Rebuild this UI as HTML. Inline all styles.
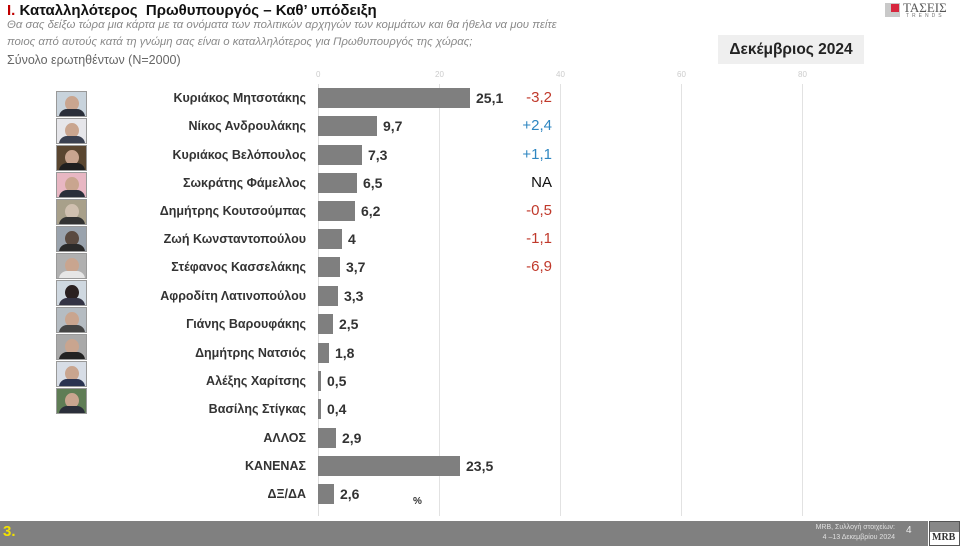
<!DOCTYPE html>
<html><head><meta charset="utf-8"><style>
*{margin:0;padding:0;box-sizing:border-box}
body{width:960px;height:546px;background:#fff;position:relative;overflow:hidden;font-family:"Liberation Sans","DejaVu Sans",sans-serif}
.a{position:absolute;white-space:nowrap}
.name{position:absolute;right:654px;font-size:12.5px;font-weight:bold;color:#333;text-align:right;line-height:20px}
.bar{position:absolute;left:318px;height:20px;background:#7f7f7f}
.val{position:absolute;font-size:14px;font-weight:bold;color:#333;line-height:20px}
.ch{position:absolute;width:60px;left:492px;text-align:right;font-size:15px;line-height:20px}
.grid{position:absolute;top:84px;width:1px;height:432px;background:#e2e2e2}
.tick{position:absolute;top:70px;font-size:8px;color:#ccc}
.ph{position:absolute;left:56px;width:31px;height:26px;border:1px solid #999;overflow:hidden}
.ph i{position:absolute;left:8px;top:4px;width:14px;height:15px;border-radius:50%;background:#c9a58f}
.ph b{position:absolute;left:2px;top:17px;width:26px;height:12px;border-radius:8px 8px 0 0;background:#2b2f3a}
</style></head><body>
<div class="a" style="left:7px;top:2px;font-size:15px;font-weight:bold;color:#111"><span style="color:#c00000">I.</span> Καταλληλότερος&nbsp; Πρωθυπουργός – Καθ’ υπόδειξη</div>
<div class="a" style="left:7px;top:17px;font-size:11.4px;font-style:italic;color:#8a8a8a;line-height:17px">Θα σας δείξω τώρα μια κάρτα με τα ονόματα των πολιτικών αρχηγών των κομμάτων και θα ήθελα να μου πείτε<br>ποιος από αυτούς κατά τη γνώμη σας είναι ο καταλληλότερος για Πρωθυπουργός της χώρας;</div>
<div class="a" style="left:7px;top:53px;font-size:12.5px;color:#666">Σύνολο ερωτηθέντων (N=2000)</div>
<div class="a" style="left:885px;top:3px;width:15px;height:14px;background:#c9c9c9"><div style="position:absolute;left:6px;top:1px;width:8px;height:8px;background:#d7263d"></div></div>
<div class="a" style="left:903px;top:0px;font-size:13px;font-family:'Liberation Serif',serif;color:#555">ΤΑΣΕΙΣ</div>
<div class="a" style="left:906px;top:13px;font-size:5px;letter-spacing:3px;color:#777">TRENDS</div>
<div class="a" style="left:718px;top:35px;width:146px;height:29px;background:#efefef;font-size:15.5px;font-weight:bold;color:#222;text-align:center;line-height:29px">Δεκέμβριος 2024</div>
<div class="grid" style="left:318px;background:#ddd"></div>
<div class="grid" style="left:439px"></div><div class="grid" style="left:560px"></div><div class="grid" style="left:681px"></div><div class="grid" style="left:802px"></div>
<div class="tick" style="left:316px">0</div><div class="tick" style="left:435px">20</div><div class="tick" style="left:556px">40</div><div class="tick" style="left:677px">60</div><div class="tick" style="left:798px">80</div>

<div class="name" style="top:88px">Κυριάκος Μητσοτάκης</div><div class="bar" style="top:88px;width:152px"></div><div class="val" style="top:88px;left:476px">25,1</div><div class="ch" style="top:88px;color:#c0392b">-3,2</div>
<div class="name" style="top:116px">Νίκος Ανδρουλάκης</div><div class="bar" style="top:116px;width:59px"></div><div class="val" style="top:116px;left:383px">9,7</div><div class="ch" style="top:116px;color:#2e86c1">+2,4</div>
<div class="name" style="top:145px">Κυριάκος Βελόπουλος</div><div class="bar" style="top:145px;width:44px"></div><div class="val" style="top:145px;left:368px">7,3</div><div class="ch" style="top:145px;color:#2e86c1">+1,1</div>
<div class="name" style="top:173px">Σωκράτης Φάμελλος</div><div class="bar" style="top:173px;width:39px"></div><div class="val" style="top:173px;left:363px">6,5</div><div class="ch" style="top:173px;color:#111">NA</div>
<div class="name" style="top:201px">Δημήτρης Κουτσούμπας</div><div class="bar" style="top:201px;width:37px"></div><div class="val" style="top:201px;left:361px">6,2</div><div class="ch" style="top:201px;color:#c0392b">-0,5</div>
<div class="name" style="top:229px">Ζωή Κωνσταντοπούλου</div><div class="bar" style="top:229px;width:24px"></div><div class="val" style="top:229px;left:348px">4</div><div class="ch" style="top:229px;color:#c0392b">-1,1</div>
<div class="name" style="top:257px">Στέφανος Κασσελάκης</div><div class="bar" style="top:257px;width:22px"></div><div class="val" style="top:257px;left:346px">3,7</div><div class="ch" style="top:257px;color:#c0392b">-6,9</div>
<div class="name" style="top:286px">Αφροδίτη Λατινοπούλου</div><div class="bar" style="top:286px;width:20px"></div><div class="val" style="top:286px;left:344px">3,3</div>
<div class="name" style="top:314px">Γιάνης Βαρουφάκης</div><div class="bar" style="top:314px;width:15px"></div><div class="val" style="top:314px;left:339px">2,5</div>
<div class="name" style="top:343px">Δημήτρης Νατσιός</div><div class="bar" style="top:343px;width:11px"></div><div class="val" style="top:343px;left:335px">1,8</div>
<div class="name" style="top:371px">Αλέξης Χαρίτσης</div><div class="bar" style="top:371px;width:3px"></div><div class="val" style="top:371px;left:327px">0,5</div>
<div class="name" style="top:399px">Βασίλης Στίγκας</div><div class="bar" style="top:399px;width:3px"></div><div class="val" style="top:399px;left:327px">0,4</div>
<div class="name" style="top:428px">ΑΛΛΟΣ</div><div class="bar" style="top:428px;width:18px"></div><div class="val" style="top:428px;left:342px">2,9</div>
<div class="name" style="top:456px">ΚΑΝΕΝΑΣ</div><div class="bar" style="top:456px;width:142px"></div><div class="val" style="top:456px;left:466px">23,5</div>
<div class="name" style="top:484px">ΔΞ/ΔΑ</div><div class="bar" style="top:484px;width:16px"></div><div class="val" style="top:484px;left:340px">2,6</div>
<div class="a" style="left:413px;top:496px;font-size:10px;font-weight:bold;color:#333">%</div>

<div class="ph" style="top:91px;background:#c8d3dc"><i></i><b></b></div>
<div class="ph" style="top:118px;background:#e6e6ea"><i></i><b style="background:#3a4050"></b></div>
<div class="ph" style="top:145px;background:#5a4630"><i></i><b style="background:#1f1f1f"></b></div>
<div class="ph" style="top:172px;background:#e8b7c3"><i></i><b></b></div>
<div class="ph" style="top:199px;background:#a8a08a"><i style="background:#d0c0b0"></i><b style="background:#333"></b></div>
<div class="ph" style="top:226px;background:#9aa3ad"><i style="background:#5a4a40"></i><b style="background:#2a2a2a"></b></div>
<div class="ph" style="top:253px;background:#b0b0b0"><i></i><b style="background:#e6e6e6"></b></div>
<div class="ph" style="top:280px;background:#cfd8e0"><i style="background:#2a2020"></i><b style="background:#334"></b></div>
<div class="ph" style="top:307px;background:#b5bcc2"><i></i><b style="background:#444"></b></div>
<div class="ph" style="top:334px;background:#a9a9a9"><i></i><b style="background:#222"></b></div>
<div class="ph" style="top:361px;background:#d7dde6"><i></i><b style="background:#2a3350"></b></div>
<div class="ph" style="top:388px;background:#5f7d55"><i></i><b style="background:#2b2f3a"></b></div>

<div class="a" style="left:0;top:521px;width:928px;height:25px;background:#808080"></div>
<div class="a" style="left:3px;top:523px;font-size:15px;font-weight:bold;color:#f2e200">3.</div>
<div class="a" style="left:790px;top:523px;font-size:7px;color:#e0e0e0;text-align:right;width:105px;line-height:10px">MRB, Συλλογή στοιχείων:<br>4 –13 Δεκεμβρίου 2024</div>
<div class="a" style="left:906px;top:525px;font-size:10px;color:#eee">4</div>
<div class="a" style="left:929px;top:521px;width:31px;height:25px;background:#fff;border:1px solid #555"><div style="height:10px;background:#888"></div><div style="font-family:'Liberation Serif',serif;font-weight:bold;font-size:10px;color:#333;padding-left:2px">MRB</div></div>
</body></html>
